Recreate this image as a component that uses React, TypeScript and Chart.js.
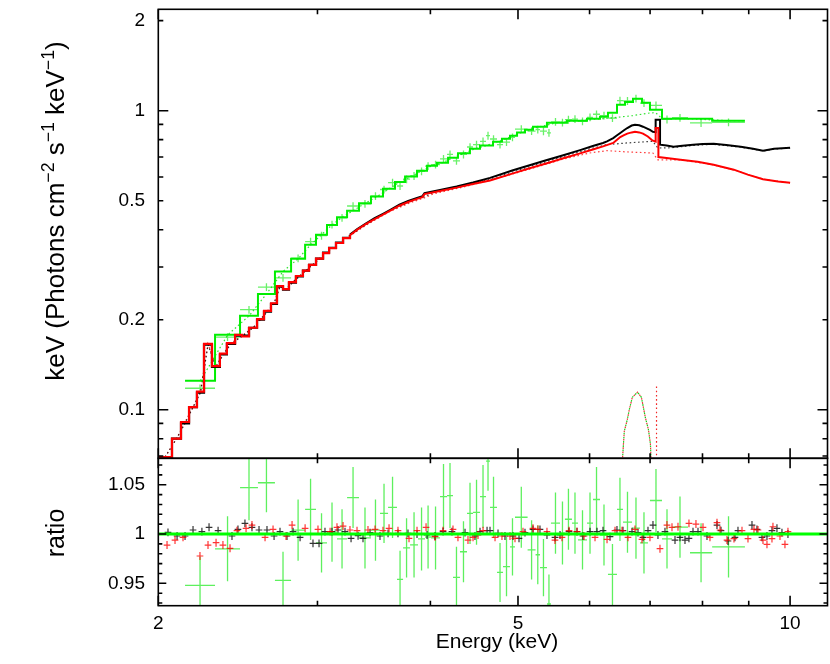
import React, { useEffect, useRef } from 'react';
import { Chart, registerables } from 'chart.js';

Chart.register(...registerables);

const FONT = '"Liberation Sans", Arial, Helvetica, sans-serif';

// ---------------- axes ----------------
const X_RANGE = [2, 11];
const FLUX_RANGE = [0.0688, 2.183];
const RATIO_RANGE = [0.9273, 1.0768];

const xTickValues = [2, 3, 4, 5, 6, 7, 8, 9, 10];
const xTickLabels = ['2', '', '', '5', '', '', '', '', '10'];
const xMajorTicks = [2, 5, 10];

const fluxTickValues = [0.07, 0.08, 0.09, 0.1, 0.2, 0.3, 0.4, 0.5, 0.6, 0.7, 0.8, 0.9, 1, 2];
const fluxTickLabels = ['', '', '', '0.1', '0.2', '', '', '0.5', '', '', '', '', '1', '2'];
const fluxMajorTicks = [0.1, 1];

const ratioTickValues = [0.93, 0.94, 0.95, 0.96, 0.97, 0.98, 0.99, 1.0, 1.01, 1.02, 1.03, 1.04, 1.05, 1.06, 1.07];
const ratioTickLabels = ['', '', '0.95', '', '', '', '', '1', '', '', '', '', '1.05', '', ''];
const ratioMajorTicks = [0.95, 1.0, 1.05];

// ---------------- folded models ----------------
// low-energy part: coarse bins (bin left edge, value; last entry = end edge)
const blackModelLow: [number, number][] = [
  [2.0, 0.0695], [2.071, 0.080], [2.119, 0.090], [2.163, 0.102], [2.207, 0.114], [2.247, 0.165],
  [2.293, 0.139], [2.340, 0.153], [2.382, 0.166], [2.432, 0.177], [2.520, 0.188], [2.572, 0.200],
  [2.618, 0.213], [2.665, 0.226], [2.706, 0.258], [2.748, 0.252], [2.790, 0.266], [2.840, 0.279],
  [2.891, 0.292], [2.936, 0.305], [2.989, 0.320], [3.043, 0.335], [3.090, 0.348], [3.145, 0.362],
  [3.202, 0.376], [3.259, 0.385],
];
// high-energy part: fine bins (energy, value)
const blackModelHigh: [number, number][] = [
  [3.259, 0.385], [3.32, 0.402], [3.396, 0.420], [3.47, 0.437], [3.545, 0.452], [3.62, 0.468],
  [3.696, 0.485], [3.78, 0.499], [3.866, 0.511], [3.92, 0.518], [3.94, 0.530], [4.099, 0.543],
  [4.276, 0.558], [4.459, 0.575], [4.656, 0.596], [4.937, 0.632], [5.15, 0.657], [5.383, 0.684],
  [5.6, 0.708], [5.857, 0.738], [6.05, 0.762], [6.209, 0.780], [6.273, 0.790], [6.373, 0.810],
  [6.43, 0.826], [6.488, 0.842], [6.55, 0.860], [6.605, 0.875], [6.68, 0.892], [6.736, 0.898],
  [6.81, 0.894], [6.875, 0.884], [6.94, 0.873], [6.998, 0.862], [7.05, 0.850], [7.10, 0.848],
  [7.10, 0.933], [7.18, 0.933], [7.18, 0.770], [7.3, 0.765], [7.431, 0.758], [7.6, 0.764],
  [7.809, 0.770], [8.0, 0.774], [8.232, 0.775], [8.5, 0.768], [8.82, 0.758], [9.1, 0.746],
  [9.333, 0.735], [9.6, 0.746], [9.8, 0.749], [10.0, 0.752],
];

const redModelLow: [number, number][] = [
  [2.0, 0.0695], [2.071, 0.080], [2.119, 0.091], [2.163, 0.102], [2.207, 0.115], [2.247, 0.166],
  [2.293, 0.140], [2.340, 0.154], [2.382, 0.167], [2.432, 0.178], [2.475, 0.176], [2.520, 0.188],
  [2.572, 0.201], [2.618, 0.214], [2.665, 0.227], [2.706, 0.259], [2.748, 0.253], [2.790, 0.267],
  [2.840, 0.280], [2.891, 0.292], [2.936, 0.305], [2.989, 0.320], [3.043, 0.334], [3.090, 0.347],
  [3.145, 0.361], [3.202, 0.375], [3.259, 0.383],
];
const redModelHigh: [number, number][] = [
  [3.259, 0.383], [3.32, 0.400], [3.396, 0.418], [3.47, 0.434], [3.545, 0.449], [3.62, 0.465],
  [3.696, 0.481], [3.78, 0.495], [3.866, 0.507], [3.92, 0.514], [3.94, 0.526], [4.099, 0.539],
  [4.276, 0.553], [4.459, 0.569], [4.656, 0.584], [4.937, 0.617], [5.15, 0.642], [5.383, 0.667],
  [5.6, 0.692], [5.857, 0.720], [6.05, 0.742], [6.209, 0.760], [6.373, 0.780], [6.43, 0.798],
  [6.488, 0.816], [6.55, 0.828], [6.605, 0.838], [6.68, 0.846], [6.736, 0.850], [6.81, 0.846],
  [6.875, 0.838], [6.96, 0.820], [7.042, 0.795], [7.10, 0.788], [7.10, 0.875], [7.15, 0.875],
  [7.15, 0.700], [7.3, 0.695], [7.565, 0.686], [7.9, 0.675], [8.232, 0.660], [8.664, 0.635],
  [8.979, 0.611], [9.333, 0.590], [9.7, 0.580], [10.0, 0.574],
];

const greenModel: [number, number][] = [
  [2.141, 0.125], [2.311, 0.178], [2.463, 0.206], [2.578, 0.244], [2.692, 0.290], [2.805, 0.320],
  [2.907, 0.356], [2.989, 0.385], [3.074, 0.415], [3.153, 0.440], [3.235, 0.463], [3.335, 0.490],
  [3.438, 0.516], [3.545, 0.548], [3.655, 0.578], [3.750, 0.602], [3.866, 0.630], [3.966, 0.655],
  [4.068, 0.670], [4.184, 0.696], [4.291, 0.720], [4.424, 0.746], [4.539, 0.765], [4.692, 0.788],
  [4.800, 0.806], [4.899, 0.825], [4.988, 0.845], [5.090, 0.864], [5.195, 0.884], [5.383, 0.912],
  [5.664, 0.926], [5.961, 0.940], [6.162, 0.955], [6.288, 0.985], [6.434, 1.047], [6.567, 1.070],
  [6.702, 1.097], [6.857, 1.064], [6.998, 1.008], [7.216, 0.940], [8.199, 0.926], [8.913, 0.926],
];

// ---------------- model components (dotted) ----------------
const blackContinuum: [number, number][] = [
  [2.035, 0.0695], [2.095, 0.080], [2.141, 0.090], [2.185, 0.102], [2.227, 0.114], [2.27, 0.165],
  [2.316, 0.139], [2.361, 0.153], [2.407, 0.166], [2.476, 0.176], [2.546, 0.188], [2.595, 0.200],
  [2.641, 0.213], [2.685, 0.226], [2.727, 0.258], [2.769, 0.252], [2.815, 0.266], [2.865, 0.279],
  [2.913, 0.292], [2.962, 0.305], [3.016, 0.320], [3.066, 0.335], [3.117, 0.348], [3.173, 0.362],
  [3.23, 0.376], [3.4, 0.417], [3.6, 0.462], [3.8, 0.496], [3.94, 0.516], [4.03, 0.532],
  [4.3, 0.555], [4.7, 0.596], [5.2, 0.656], [5.6, 0.701], [6.0, 0.745], [6.27, 0.770],
  [6.6, 0.780], [7.05, 0.790], [7.14, 0.750], [7.4, 0.752], [7.8, 0.765], [8.2, 0.772],
  [8.8, 0.756], [9.35, 0.733], [9.6, 0.744], [10.0, 0.750],
];

const redContinuum: [number, number][] = [
  [2.035, 0.0695], [2.095, 0.080], [2.141, 0.091], [2.185, 0.102], [2.227, 0.115], [2.27, 0.166],
  [2.316, 0.140], [2.361, 0.154], [2.407, 0.167], [2.476, 0.177], [2.546, 0.188], [2.595, 0.201],
  [2.641, 0.214], [2.685, 0.227], [2.727, 0.259], [2.769, 0.253], [2.815, 0.267], [2.865, 0.280],
  [2.913, 0.292], [2.962, 0.305], [3.016, 0.320], [3.066, 0.334], [3.117, 0.347], [3.173, 0.361],
  [3.23, 0.375], [3.4, 0.415], [3.6, 0.459], [3.8, 0.492], [3.94, 0.511], [4.03, 0.527],
  [4.3, 0.551], [4.7, 0.589], [5.2, 0.643], [5.6, 0.688], [6.0, 0.722], [6.27, 0.735],
  [6.6, 0.728], [7.05, 0.722], [7.14, 0.685], [7.6, 0.684], [8.2, 0.660], [8.7, 0.632],
  [9.0, 0.610], [9.35, 0.590], [10.0, 0.573],
];

const greenContinuum: [number, number][] = [
  [2.226, 0.125], [2.387, 0.178], [2.52, 0.206], [2.635, 0.244], [2.748, 0.290], [2.856, 0.320],
  [2.948, 0.356], [3.031, 0.385], [3.113, 0.415], [3.194, 0.440], [3.285, 0.463], [3.386, 0.490],
  [3.491, 0.516], [3.6, 0.548], [3.702, 0.578], [3.808, 0.602], [3.916, 0.630], [4.017, 0.655],
  [4.126, 0.670], [4.237, 0.696], [4.357, 0.720], [4.481, 0.746], [4.615, 0.765], [4.746, 0.788],
  [4.85, 0.806], [4.943, 0.825], [5.039, 0.845], [5.142, 0.864], [5.289, 0.884], [5.52, 0.912],
  [5.81, 0.926], [6.06, 0.935], [6.36, 0.946], [6.7, 0.963], [7.0, 0.983], [7.1, 0.985],
  [7.216, 0.940], [7.7, 0.940], [8.55, 0.926], [8.913, 0.926],
];

const ironLine: [number, number][] = [
  [6.52, 0.066], [6.555, 0.0847], [6.605, 0.0926], [6.639, 0.100], [6.69, 0.110], [6.78, 0.1145],
  [6.847, 0.110], [6.881, 0.102], [6.917, 0.094], [6.97, 0.086], [7.006, 0.077], [7.02, 0.066],
];

const narrowLine: [number, number][] = [[7.116, 0.066], [7.116, 0.121]];

// ---------------- green spectrum: bins [lo, hi], flux, ratio, ratio error ----------------
const greenBins: [number, number][] = [
  [2.141, 2.311], [2.311, 2.463], [2.463, 2.578], [2.578, 2.692], [2.692, 2.805], [2.805, 2.907],
  [2.907, 2.989], [2.989, 3.074], [3.074, 3.153], [3.153, 3.235], [3.235, 3.335], [3.335, 3.438],
  [3.438, 3.518], [3.518, 3.591], [3.591, 3.674], [3.674, 3.731], [3.731, 3.798], [3.798, 3.876],
  [3.876, 3.946], [3.946, 4.007], [4.007, 4.099], [4.099, 4.173], [4.173, 4.237], [4.237, 4.313],
  [4.313, 4.391], [4.391, 4.459], [4.459, 4.539], [4.539, 4.609], [4.609, 4.656], [4.656, 4.740],
  [4.740, 4.813], [4.813, 4.899], [4.899, 4.962], [4.962, 5.124], [5.124, 5.229], [5.229, 5.288],
  [5.288, 5.383], [5.383, 5.438], [5.438, 5.565], [5.565, 5.635], [5.635, 5.737], [5.737, 5.826],
  [5.826, 5.961], [5.961, 6.053], [6.053, 6.162], [6.162, 6.288], [6.288, 6.434], [6.434, 6.533],
  [6.533, 6.685], [6.685, 6.822], [6.822, 6.963], [6.998, 7.216], [7.216, 7.402], [7.402, 7.710],
  [7.749, 8.199], [8.199, 8.913],
];
const greenFlux = [
  0.118, 0.175, 0.216, 0.257, 0.276, 0.321, 0.365, 0.382, 0.416, 0.438, 0.480, 0.488,
  0.518, 0.545, 0.575, 0.560, 0.590, 0.605, 0.627, 0.653, 0.660, 0.690, 0.714, 0.680,
  0.714, 0.756, 0.770, 0.790, 0.825, 0.804, 0.770, 0.785, 0.814, 0.868, 0.855, 0.865,
  0.854, 0.843, 0.918, 0.913, 0.933, 0.937, 0.921, 0.950, 0.973, 0.963, 0.945, 1.081,
  1.078, 1.097, 1.060, 1.042, 0.935, 0.947, 0.910, 0.914,
];
const greenRatio = [
  0.948, 0.985, 1.047, 1.052, 0.953, 1.004, 1.025, 0.991, 1.002, 0.995, 1.037, 0.996,
  1.004, 1.021, 1.027, 0.954, 0.986, 0.989, 0.995, 0.997, 0.996, 1.038, 1.039, 0.956,
  0.982, 1.021, 1.022, 1.038, 1.074, 1.027, 0.961, 0.967, 0.987, 1.017, 0.984, 0.979,
  0.966, 0.929, 1.011, 1.001, 1.015, 1.011, 0.994, 1.011, 1.035, 0.999, 0.959, 1.025,
  1.012, 1.006, 0.991, 1.034, 0.995, 1.007, 0.981, 0.987,
];
const greenRatioErr = [
  0.029, 0.033, 0.033, 0.030, 0.029, 0.031, 0.031, 0.030, 0.030, 0.030, 0.031, 0.031,
  0.031, 0.030, 0.031, 0.029, 0.030, 0.033, 0.032, 0.032, 0.032, 0.033, 0.033, 0.031,
  0.031, 0.031, 0.033, 0.032, 0.030, 0.031, 0.030, 0.030, 0.029, 0.031, 0.030, 0.030,
  0.029, 0.030, 0.031, 0.032, 0.031, 0.031, 0.030, 0.031, 0.033, 0.031, 0.031, 0.032,
  0.031, 0.031, 0.031, 0.032, 0.030, 0.031, 0.030, 0.031,
];
const GREEN_FLUX_REL_ERR = 0.03;

// ---------------- black & red ratios (bin centre, ratio) ----------------
const blackRatio: [number, number][] = [
  [2.050, 1.0017], [2.098, 0.998], [2.141, 0.998], [2.185, 1.0041], [2.235, 1.0024], [2.276, 1.0068],
  [2.329, 1.0034], [2.413, 0.998], [2.450, 1.0047], [2.494, 1.0108], [2.539, 1.0068], [2.585, 1.0041],
  [2.638, 1.0041], [2.686, 0.998], [2.727, 1.0024], [2.776, 0.998], [2.819, 1.0024], [2.870, 0.9966],
  [2.966, 0.9905], [3.012, 0.9905], [3.058, 1.0024], [3.113, 1.0024], [3.161, 1.0041], [3.218, 1.0024],
  [3.268, 0.9956], [3.327, 0.9983], [3.369, 0.9956], [3.430, 1.0014], [3.518, 0.998], [3.591, 1.0007],
  [3.683, 1.0007], [3.778, 1.0007], [3.866, 1.0], [3.966, 0.999], [4.047, 0.998], [4.131, 1.0024],
  [4.226, 1.0024], [4.369, 1.0014], [4.481, 0.998], [4.539, 1.0024], [4.621, 1.0034], [4.656, 1.0034],
  [4.752, 1.0007], [4.837, 0.998], [4.937, 0.998], [5.013, 0.9956], [5.090, 1.0014], [5.195, 1.0047],
  [5.288, 1.0047], [5.383, 0.999], [5.494, 0.9966], [5.565, 0.999], [5.694, 1.0024], [5.811, 1.0024],
  [5.900, 0.998], [6.007, 1.0024], [6.115, 1.0024], [6.209, 1.0034], [6.321, 0.9973], [6.434, 1.0041],
  [6.533, 1.0034], [6.685, 1.0024], [6.788, 1.0014], [6.875, 0.9966], [6.963, 1.0034], [7.052, 1.0091],
  [7.142, 0.999], [7.271, 1.0024], [7.459, 0.9939], [7.554, 0.9966], [7.651, 0.9939], [7.729, 0.9956],
  [7.809, 1.0024], [7.909, 1.0024], [8.092, 0.998], [8.301, 1.0091], [8.386, 1.0034], [8.537, 0.9929],
  [8.690, 0.9966], [8.757, 1.0034], [9.075, 1.0091], [9.191, 1.0047], [9.309, 0.9966], [9.428, 0.998],
  [9.549, 1.0034], [9.671, 1.0058], [9.795, 1.0014], [9.946, 1.0],
];

const redRatio: [number, number][] = [
  [2.045, 0.9888], [2.087, 0.9939], [2.130, 0.9966], [2.224, 0.9777], [2.270, 0.9888], [2.317, 0.9912],
  [2.358, 0.9888], [2.401, 0.9855], [2.444, 1.0034], [2.501, 1.0058], [2.539, 1.0091], [2.625, 0.9966],
  [2.679, 1.0047], [2.769, 0.998], [2.812, 1.0091], [2.907, 1.0058], [3.004, 1.0047], [3.098, 1.0024],
  [3.153, 1.0068], [3.202, 1.0081], [3.259, 1.0041], [3.318, 1.0034], [3.412, 1.0041], [3.474, 1.0047],
  [3.545, 1.0034], [3.600, 1.0058], [3.683, 1.0034], [3.788, 0.9956], [3.866, 1.0034], [3.956, 1.0068],
  [4.047, 0.9973], [4.131, 1.0034], [4.237, 1.0047], [4.291, 0.9966], [4.402, 0.9939], [4.459, 0.9966],
  [4.516, 0.999], [4.574, 1.0034], [4.716, 0.9966], [4.800, 0.998], [4.899, 0.998], [4.962, 0.9956],
  [5.064, 1.0024], [5.195, 1.0058], [5.261, 1.0047], [5.383, 1.0024], [5.494, 0.9939], [5.593, 0.9966],
  [5.694, 1.0034], [5.811, 1.0024], [5.916, 0.998], [6.084, 0.9966], [6.273, 0.9946], [6.402, 1.0034],
  [6.517, 1.0034], [6.617, 0.9966], [6.736, 1.0047], [6.857, 0.9946], [6.998, 0.9966], [7.179, 0.9851],
  [7.308, 1.0091], [7.402, 1.0068], [7.516, 1.0074], [7.729, 1.0108], [7.868, 1.0101], [8.010, 1.0068],
  [8.154, 0.9966], [8.301, 1.0115], [8.365, 1.0041], [8.515, 0.9939], [8.668, 0.9953], [8.847, 1.0034],
  [8.983, 0.9953], [9.121, 1.0047], [9.215, 1.0041], [9.333, 0.9939], [9.428, 0.9895], [9.549, 0.9953],
  [9.573, 1.0074], [9.746, 0.998], [9.870, 0.9895], [9.946, 1.0024],
];
const BIN_HALF_LOG = 0.0037; // half bin width (log10 keV) of black / red points
const BLACK_RED_RATIO_ERR = 0.004;

// ---------------- helpers ----------------
const pts = (arr: [number, number][]) => arr.map(([x, y]) => ({ x, y }));

const ratioErrPoints = (arr: [number, number][]) =>
  arr.map(([x, y]) => ({
    x, y,
    xMin: x / Math.pow(10, BIN_HALF_LOG), xMax: x * Math.pow(10, BIN_HALF_LOG),
    yMin: y - BLACK_RED_RATIO_ERR, yMax: y + BLACK_RED_RATIO_ERR,
  }));

const greenFluxPoints = greenBins.map(([lo, hi], i) => {
  const x = Math.sqrt(lo * hi);
  const y = greenFlux[i];
  return { x, y, xMin: lo, xMax: hi, yMin: y * (1 - GREEN_FLUX_REL_ERR), yMax: y * (1 + GREEN_FLUX_REL_ERR) };
});
const greenRatioPoints = greenBins.map(([lo, hi], i) => {
  const x = Math.sqrt(lo * hi);
  const y = greenRatio[i];
  return { x, y, xMin: lo, xMax: hi, yMin: y - greenRatioErr[i], yMax: y + greenRatioErr[i] };
});

const errorBarPlugin = {
  id: 'errorBars',
  beforeDatasetsDraw(chart: any) {
    const { ctx, chartArea: a, scales } = chart;
    const xs = scales.x, ys = scales.y;
    ctx.save();
    ctx.beginPath();
    ctx.rect(a.left, a.top, a.right - a.left, a.bottom - a.top);
    ctx.clip();
    chart.data.datasets.forEach((ds: any) => {
      if (!ds.errorBars) return;
      ctx.strokeStyle = ds.barColor;
      ctx.lineWidth = ds.barWidth;
      ctx.beginPath();
      for (const p of ds.data) {
        const px = xs.getPixelForValue(p.x), py = ys.getPixelForValue(p.y);
        ctx.moveTo(xs.getPixelForValue(p.xMin), py);
        ctx.lineTo(xs.getPixelForValue(p.xMax), py);
        ctx.moveTo(px, ys.getPixelForValue(p.yMin));
        ctx.lineTo(px, ys.getPixelForValue(p.yMax));
      }
      ctx.stroke();
    });
    ctx.restore();
  },
};

type Seg = { t: string; sup?: boolean };
function drawRotatedRich(ctx: CanvasRenderingContext2D, segs: Seg[], cx: number, cy: number, size: number) {
  ctx.save();
  ctx.translate(cx, cy);
  ctx.rotate(-Math.PI / 2);
  const supSize = size * 0.68;
  let total = 0;
  for (const s of segs) {
    ctx.font = `${s.sup ? supSize : size}px ${FONT}`;
    total += ctx.measureText(s.t).width;
  }
  let x = -total / 2;
  ctx.textAlign = 'left';
  ctx.textBaseline = 'middle';
  for (const s of segs) {
    ctx.font = `${s.sup ? supSize : size}px ${FONT}`;
    ctx.fillText(s.t, x, s.sup ? -size * 0.3 : 0);
    x += ctx.measureText(s.t).width;
  }
  ctx.restore();
}

function makeFramePlugin(o: {
  id: string; yTicks: number[]; yLabels: string[]; yMajor: number[];
  yMajorLen: number; yMinorLen: number; showX: boolean; title: Seg[]; titleY: number;
}) {
  return {
    id: o.id,
    afterDraw(chart: any) {
      const { ctx, chartArea: a, scales } = chart;
      const xs = scales.x, ys = scales.y;
      ctx.save();
      ctx.strokeStyle = '#000';
      ctx.lineWidth = 1.6;
      ctx.strokeRect(a.left, a.top, a.right - a.left, a.bottom - a.top);
      ctx.beginPath();
      xTickValues.forEach((v) => {
        const px = xs.getPixelForValue(v);
        const len = xMajorTicks.includes(v) ? 10 : 5;
        ctx.moveTo(px, a.top); ctx.lineTo(px, a.top + len);
        ctx.moveTo(px, a.bottom); ctx.lineTo(px, a.bottom - len);
      });
      o.yTicks.forEach((v) => {
        const py = ys.getPixelForValue(v);
        const len = o.yMajor.includes(v) ? o.yMajorLen : o.yMinorLen;
        ctx.moveTo(a.left, py); ctx.lineTo(a.left + len, py);
        ctx.moveTo(a.right, py); ctx.lineTo(a.right - len, py);
      });
      ctx.stroke();

      ctx.fillStyle = '#000';
      ctx.font = `19px ${FONT}`;
      ctx.textAlign = 'right';
      ctx.textBaseline = 'middle';
      o.yTicks.forEach((v, i) => {
        if (o.yLabels[i]) ctx.fillText(o.yLabels[i], 145, ys.getPixelForValue(v));
      });
      if (o.showX) {
        ctx.textAlign = 'center';
        xTickValues.forEach((v, i) => {
          if (xTickLabels[i]) ctx.fillText(xTickLabels[i], xs.getPixelForValue(v), 624);
        });
        ctx.font = `21px ${FONT}`;
        ctx.textBaseline = 'alphabetic';
        ctx.fillText('Energy (keV)', 497, 648);
      }
      drawRotatedRich(ctx, o.title, 57, o.titleY, o.showX ? 25 : 26);
      ctx.restore();
    },
  };
}

const line = (data: [number, number][], color: string, width: number, stepped: boolean) => ({
  data: pts(data), borderColor: color, borderWidth: width, pointRadius: 0, stepped: stepped ? 'before' : false,
  tension: 0, fill: false, clip: 0,
});
const dotted = (data: [number, number][], color: string, dashOffset = 0) => ({
  data: pts(data), borderColor: color, borderWidth: 1.2, borderDash: [1.6, 2.6], borderDashOffset: dashOffset,
  pointRadius: 0, tension: 0, fill: false, clip: 0,
});

const baseOptions = (padding: any, yScale: any) => ({
  responsive: false,
  animation: false,
  events: [],
  layout: { padding },
  plugins: { legend: { display: false }, tooltip: { enabled: false }, title: { display: false } },
  scales: {
    x: { type: 'logarithmic', min: X_RANGE[0], max: X_RANGE[1], display: false },
    y: { ...yScale, display: false },
  },
});

export default function App() {
  const topRef = useRef<HTMLCanvasElement>(null);
  const botRef = useRef<HTMLCanvasElement>(null);

  useEffect(() => {
    const top = new Chart(topRef.current as HTMLCanvasElement, {
      type: 'line',
      data: {
        datasets: [
          line(redModelLow, '#ff0000', 2.2, true),
          line(redModelHigh, '#ff0000', 2.0, false),
          line(blackModelLow, '#000000', 2.2, true),
          line(blackModelHigh, '#000000', 2.0, false),
          line(greenModel, '#00ee00', 2.0, true),
          dotted(blackContinuum, 'rgba(0,0,0,0.75)'),
          dotted(redContinuum, 'rgba(255,0,0,0.75)'),
          dotted(greenContinuum, 'rgba(0,220,0,0.8)'),
          dotted(ironLine, 'rgba(0,200,0,0.9)'),
          dotted(ironLine, 'rgba(230,0,0,0.8)', 2),
          dotted(narrowLine, 'rgba(240,0,0,0.85)'),
          {
            data: greenFluxPoints, errorBars: true, barColor: 'rgba(40,235,40,0.7)', barWidth: 1.3,
            showLine: false, pointRadius: 0, borderColor: 'transparent',
          },
        ] as any,
      },
      options: baseOptions({ left: 158.3, right: 2.5, top: 9.3, bottom: 205.7 },
        { type: 'logarithmic', min: FLUX_RANGE[0], max: FLUX_RANGE[1] }) as any,
      plugins: [errorBarPlugin, makeFramePlugin({
        id: 'frameTop', yTicks: fluxTickValues, yLabels: fluxTickLabels, yMajor: fluxMajorTicks,
        yMajorLen: 10, yMinorLen: 5, showX: false,
        title: [{ t: 'keV (Photons cm' }, { t: '\u22122', sup: true }, { t: ' s' }, { t: '\u22121', sup: true },
          { t: ' keV' }, { t: '\u22121', sup: true }, { t: ')' }],
        titleY: 211,
      })],
    });

    const bot = new Chart(botRef.current as HTMLCanvasElement, {
      type: 'line',
      data: {
        datasets: [
          line([[X_RANGE[0], 1], [X_RANGE[1], 1]], '#00ff00', 3, false),
          {
            data: greenRatioPoints, errorBars: true, barColor: 'rgba(40,235,40,0.75)', barWidth: 1.3,
            showLine: false, pointRadius: 0, borderColor: 'transparent',
          },
          {
            data: ratioErrPoints(blackRatio), errorBars: true, barColor: 'rgba(0,0,0,0.8)', barWidth: 1.2,
            showLine: false, pointRadius: 0, borderColor: 'transparent',
          },
          {
            data: ratioErrPoints(redRatio), errorBars: true, barColor: 'rgba(255,0,0,0.8)', barWidth: 1.2,
            showLine: false, pointRadius: 0, borderColor: 'transparent',
          },
        ] as any,
      },
      options: baseOptions({ left: 158.3, right: 2.5, top: 458.3, bottom: 58.3 },
        { type: 'linear', min: RATIO_RANGE[0], max: RATIO_RANGE[1] }) as any,
      plugins: [errorBarPlugin, makeFramePlugin({
        id: 'frameBot', yTicks: ratioTickValues, yLabels: ratioTickLabels, yMajor: ratioMajorTicks,
        yMajorLen: 8, yMinorLen: 4, showX: true, title: [{ t: 'ratio' }], titleY: 533,
      })],
    });

    return () => { top.destroy(); bot.destroy(); };
  }, []);

  return (
    <div style={{ position: 'absolute', left: 0, top: 0, width: 830, height: 664, background: '#ffffff' }}>
      <canvas ref={topRef} width={830} height={664} style={{ position: 'absolute', left: 0, top: 0 }} />
      <canvas ref={botRef} width={830} height={664} style={{ position: 'absolute', left: 0, top: 0 }} />
    </div>
  );
}
